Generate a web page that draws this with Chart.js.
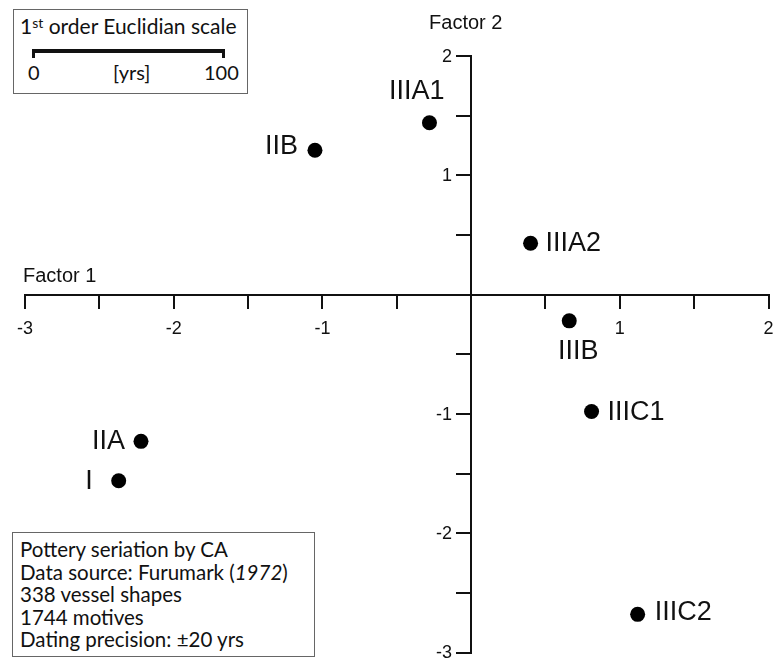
<!DOCTYPE html>
<html>
<head>
<meta charset="utf-8">
<title>Pottery seriation by CA</title>
<script src="https://cdn.jsdelivr.net/npm/chart.js@4.4.1/dist/chart.umd.min.js"></script>
<style>
    body { margin: 0; background: #fff; }
    #wrap { position: relative; width: 776px; height: 660px; }
    .box {
        position: absolute;
        box-sizing: border-box;
        border: 1px solid #666;
        background: #fff;
        color: #111;
        font-family: Lato, "Noto Sans", sans-serif;
    }
    #scale-box { left: 13px; top: 9px; width: 235px; height: 85px; }
    #scale-box .title { position: absolute; left: 6px; top: 3px; font-size: 21px; white-space: nowrap; }
    #scale-box sup { font-size: 14px; vertical-align: 6px; line-height: 0; }
    #scale-box .bar {
        position: absolute; left: 18px; top: 39px; width: 187px; height: 5px;
        border-top: 4px solid #111; border-left: 3px solid #111; border-right: 3px solid #111;
    }
    #scale-box .lab { position: absolute; top: 50px; font-size: 20px; }
    #info-box { left: 12px; top: 532px; width: 303px; height: 125px; padding: 5px 0 0 7px; font-size: 20.5px; line-height: 22.6px; }
</style>
</head>
<body>
<div id="wrap">
    <canvas id="ca-chart"></canvas>
    <div class="box" id="scale-box">
        <div class="title">1<sup>st</sup> order Euclidian scale</div>
        <div class="bar"></div>
        <span class="lab" style="left:14px">0</span>
        <span class="lab" style="left:99px">[yrs]</span>
        <span class="lab" style="left:190px">100</span>
    </div>
    <div class="box" id="info-box">
        Pottery seriation by CA<br>
        Data source: Furumark (<i>1972</i>)<br>
        338 vessel shapes<br>
        1744 motives<br>
        Dating precision: &plusmn;20 yrs
    </div>
</div>
<script>
// CA scores per phase
const phases = ["I", "IIA", "IIB", "IIIA1", "IIIA2", "IIIB", "IIIC1", "IIIC2"];
const factor1 = [-2.37, -2.22, -1.05, -0.28, 0.40, 0.66, 0.81, 1.12];
const factor2 = [-1.56, -1.23, 1.21, 1.44, 0.43, -0.22, -0.98, -2.68];

const xLabels = [-3, -2, -1, 1, 2];
const yLabels = [2, 1, -1, -2, -3];

// where each phase name sits relative to its dot: [align, dx, dy]
const labelPlace = {
    I: ["right", -26, 1],
    IIA: ["right", -16, 0],
    IIB: ["right", -17, -4],
    IIIA1: ["right", 15, -31],
    IIIA2: ["left", 15, 0],
    IIIB: ["center", 9, 31],
    IIIC1: ["left", 16, 1],
    IIIC2: ["left", 17, -2],
};

const ink = "#111";
const tickFont = "18px 'Liberation Sans', Arial, sans-serif";

const pointLabels = {
    id: "pointLabels",
    afterDatasetsDraw(chart) {
        const c = chart.ctx;
        const meta = chart.getDatasetMeta(0);
        const x = chart.scales.x;
        const y = chart.scales.y;
        c.save();
        c.fillStyle = ink;
        c.textBaseline = "middle";
        c.font = "27px 'Liberation Sans', Arial, sans-serif";
        meta.data.forEach((pt, i) => {
            const [align, dx, dy] = labelPlace[phases[i]];
            c.textAlign = align;
            c.fillText(phases[i], pt.x + dx, pt.y + dy);
        });

        // y tick labels sit left of the tick marks
        const axisX = x.getPixelForValue(0);
        c.font = tickFont;
        c.textAlign = "right";
        y.ticks.forEach((t) => {
            if (yLabels.includes(t.value)) {
                c.fillText(String(t.value), axisX - 19, y.getPixelForValue(t.value) + 1);
            }
        });

        // axis titles
        c.font = "20px 'Liberation Sans', Arial, sans-serif";
        c.textAlign = "left";
        c.fillText("Factor 1", x.left - 2, y.getPixelForValue(0) - 18);
        c.fillText("Factor 2", axisX - 42, y.top - 33);
        c.restore();
    },
};

const ctx = document.getElementById("ca-chart").getContext("2d");

new Chart(ctx, {
    type: "scatter",
    data: {
        datasets: [
            {
                label: "Phases",
                data: phases.map((p, i) => ({ x: factor1[i], y: factor2[i] })),
                backgroundColor: "#000",
                borderWidth: 0,
                pointRadius: 7.5,
                pointHoverRadius: 7.5,
            },
        ],
    },
    options: {
        responsive: true,
        maintainAspectRatio: false,
        animation: false,
        layout: { padding: { left: 25, right: 4, top: 56, bottom: 6 } },
        plugins: {
            legend: { display: false },
            tooltip: { enabled: false },
        },
        scales: {
            x: {
                type: "linear",
                min: -3,
                max: 2,
                position: { y: 0 },
                afterFit: (s) => { s.height = 0; s.paddingLeft = 0; s.paddingRight = 0; },
                border: { display: true, color: ink, width: 2 },
                grid: { drawOnChartArea: false, drawTicks: true, tickLength: 13, color: ink, lineWidth: 2 },
                ticks: {
                    stepSize: 0.5,
                    autoSkip: false,
                    maxRotation: 0,
                    padding: 11,
                    color: ink,
                    font: { family: "'Liberation Sans', Arial, sans-serif", size: 18 },
                    callback: (v) => (xLabels.includes(v) ? String(v) : ""),
                },
            },
            y: {
                type: "linear",
                min: -3,
                max: 2,
                position: { x: 0 },
                afterFit: (s) => { s.width = 0; s.paddingTop = 0; s.paddingBottom = 0; },
                border: { display: true, color: ink, width: 2 },
                grid: { drawOnChartArea: false, drawTicks: true, tickLength: 14, color: ink, lineWidth: 2 },
                ticks: {
                    stepSize: 0.5,
                    autoSkip: false,
                    display: false,
                },
            },
        },
    },
    plugins: [pointLabels],
});
</script>
</body>
</html>
